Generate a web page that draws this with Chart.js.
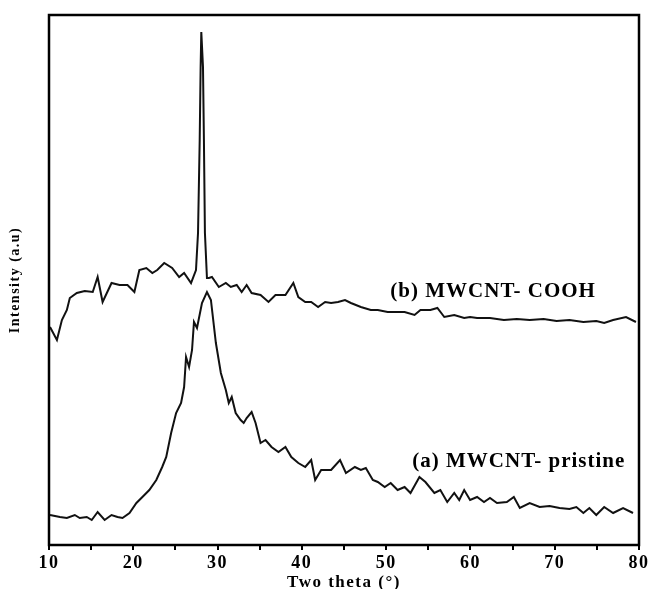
<!DOCTYPE html>
<html>
<head>
<meta charset="utf-8">
<script src="https://cdn.jsdelivr.net/npm/chart.js@4.4.1/dist/chart.umd.min.js"></script>
<style>
  html, body { margin: 0; padding: 0; background: #fff; }
  canvas { display: block; }
</style>
</head>
<body>
<canvas id="c" width="651" height="589"></canvas>
<script>
// ---- Data (two theta in degrees, intensity in arbitrary units) ----
const cooh2Theta = [10.12,10.94,11.53,12.12,12.47,13.30,14.24,15.19,15.77,16.36,17.42,18.37,19.31,20.13,20.72,21.55,22.26,22.84,23.67,24.61,25.44,26.03,26.85,27.44,27.68,27.88,27.99,28.07,28.27,28.38,28.50,28.74,28.97,29.33,30.15,30.98,31.57,32.27,32.86,33.45,34.04,35.10,36.04,36.87,38.05,38.99,39.58,40.40,41.11,41.93,42.76,43.47,44.29,45.12,45.82,47.00,48.18,49.01,50.18,51.01,52.19,53.37,54.07,55.25,56.08,56.90,58.08,59.26,59.96,60.79,62.32,63.97,65.50,67.03,68.68,70.22,71.75,73.40,74.93,75.87,76.93,78.46,79.64];
const coohIntensity = [218,205,225,235,247,252,254,253,268,243,262,260,260,253,275,277,272,275,282,277,268,272,262,275,312,405,478,513,478,405,312,267,267,268,258,262,258,260,253,260,252,250,243,250,250,262,248,243,243,238,243,242,243,245,242,238,235,235,233,233,233,230,235,235,237,228,230,227,228,227,227,225,226,225,226,224,225,223,224,222,225,228,223];

const pristine2Theta = [10.12,11.30,12.12,13.06,13.65,14.48,15.07,15.77,16.60,17.42,18.13,18.72,19.55,20.37,21.08,21.90,22.73,23.43,23.91,24.49,25.08,25.67,26.03,26.26,26.62,26.97,27.20,27.56,28.15,28.74,29.21,29.80,30.39,30.98,31.33,31.68,32.15,32.74,33.10,33.45,34.04,34.51,35.10,35.69,36.40,37.22,38.05,38.75,39.58,40.40,41.11,41.58,42.29,43.47,44.53,45.23,46.29,47.00,47.59,48.42,49.01,49.83,50.54,51.36,52.19,52.89,53.95,54.66,55.72,56.43,57.25,58.08,58.67,59.26,59.96,60.79,61.61,62.32,63.15,64.32,65.15,65.86,67.03,68.21,69.39,70.57,71.75,72.57,73.40,74.11,74.93,75.87,76.93,78.11,79.29];
const pristineIntensity = [30,28,27,30,27,28,25,33,25,30,28,27,32,42,48,55,65,78,88,112,132,142,158,188,178,195,223,217,242,253,245,202,172,155,142,148,132,125,122,127,133,122,102,105,98,93,98,88,82,78,85,65,75,75,85,72,78,75,77,65,63,58,62,55,58,52,68,63,52,55,43,52,45,55,45,48,43,47,42,43,48,37,42,38,39,37,36,38,32,37,30,38,32,37,32];

const xTickValues = [10,15,20,25,30,35,40,45,50,55,60,65,70,75,80];
const xTickLabels = ['10','','20','','30','','40','','50','','60','','70','','80'];

const seriesLabels = ['(b) MWCNT- COOH', '(a) MWCNT- pristine'];
const labelAnchors2Theta = [50.5, 53.1];
const labelAnchorsIntensity = [248, 78];

const FONT = '"Liberation Serif", "Times New Roman", serif';

const toPoints = (xs, ys) => xs.map((x, i) => ({x: x, y: ys[i]}));

const framePlugin = {
  id: 'frame',
  beforeDraw(chart) {
    const ctx = chart.ctx;
    ctx.save();
    ctx.fillStyle = '#fff';
    ctx.fillRect(0, 0, chart.width, chart.height);
    ctx.restore();
    try { ctx.letterSpacing = '1.5px'; } catch (e) {}
  },
  afterDatasetsDraw(chart) {
    const ctx = chart.ctx;
    const a = chart.chartArea;
    ctx.save();
    ctx.strokeStyle = '#000';
    ctx.lineWidth = 2.5;
    ctx.strokeRect(a.left, a.top, a.right - a.left, a.bottom - a.top);
    // series labels anchored in data coordinates
    const xs = chart.scales.x, ys = chart.scales.y;
    ctx.fillStyle = '#000';
    ctx.font = 'bold 21px ' + FONT;
    ctx.textBaseline = 'alphabetic';
    ctx.textAlign = 'left';
    try { ctx.letterSpacing = '1px'; } catch (e) {}
    seriesLabels.forEach((t, i) => {
      ctx.fillText(t, xs.getPixelForValue(labelAnchors2Theta[i]), ys.getPixelForValue(labelAnchorsIntensity[i]));
    });
    ctx.restore();
  }
};

new Chart(document.getElementById('c'), {
  type: 'line',
  data: {
    datasets: [
      { label: seriesLabels[0], data: toPoints(cooh2Theta, coohIntensity),
        borderColor: '#111', borderWidth: 2, pointRadius: 0, tension: 0, fill: false },
      { label: seriesLabels[1], data: toPoints(pristine2Theta, pristineIntensity),
        borderColor: '#111', borderWidth: 2, pointRadius: 0, tension: 0, fill: false }
    ]
  },
  options: {
    responsive: false,
    devicePixelRatio: 1,
    animation: false,
    layout: { padding: { left: 0, right: 8, top: 15, bottom: 0 } },
    plugins: { legend: { display: false }, tooltip: { enabled: false } },
    scales: {
      x: {
        type: 'linear', min: 10, max: 80,
        afterBuildTicks: s => { s.ticks = xTickValues.map(v => ({ value: v })); },
        afterFit: s => { s.height = 44; },
        ticks: {
          autoSkip: false, maxRotation: 0, padding: 3, color: '#000',
          font: { family: FONT, weight: 'bold', size: 18 },
          callback: (v) => xTickLabels[xTickValues.indexOf(v)] ?? ''
        },
        grid: { drawOnChartArea: false, drawTicks: true, tickLength: 5, color: '#000', lineWidth: 2 },
        border: { display: false },
        title: {
          display: true, text: 'Two theta (°)', color: '#000',
          font: { family: FONT, weight: 'bold', size: 17, lineHeight: 1 },
          padding: { top: 0, bottom: -2 }
        }
      },
      y: {
        type: 'linear', min: 0, max: 530,
        afterFit: s => { s.width = 49; },
        ticks: { display: false },
        grid: { display: false },
        border: { display: false },
        title: {
          display: true, text: 'Intensity (a.u)', color: '#000',
          font: { family: FONT, weight: 'bold', size: 14, lineHeight: 1.2 },
          padding: { top: 7, bottom: 0 }
        }
      }
    }
  },
  plugins: [framePlugin]
});
</script>
</body>
</html>
